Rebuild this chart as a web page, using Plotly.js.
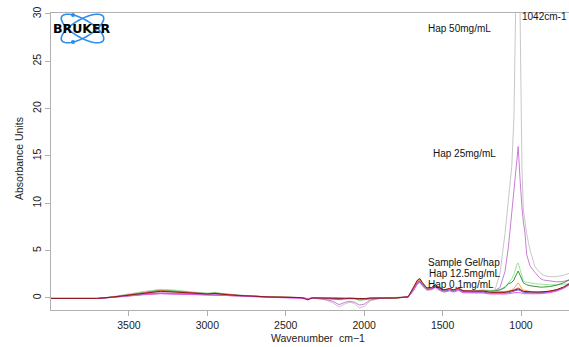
<!DOCTYPE html>
<html><head><meta charset="utf-8">
<script src="https://cdn.plot.ly/plotly-3.0.1.min.js"></script>
<style>html,body{margin:0;padding:0;background:#fff;}#chart{width:569px;height:347px;}</style>
</head><body><div id="chart"></div>
<script>
// Wavenumber grid (cm-1), shared by all spectra
const wavenumber = [4000, 3700, 3600, 3500, 3400, 3300, 3200, 3100, 3000, 2950,
 2900, 2800, 2600, 2400, 2360, 2330, 2250, 2200, 2160, 2120,
 2090, 2060, 2030, 2000, 1960, 1900, 1800, 1720, 1690, 1660,
 1645, 1630, 1600, 1570, 1545, 1520, 1490, 1455, 1430, 1400,
 1370, 1340, 1300, 1240, 1200, 1166, 1134, 1102, 1081, 1059,
 1045, 1038, 1025, 1018, 1006, 1000, 994, 985, 975, 964,
 943, 911, 880, 858, 820, 773, 730, 694];

const hap50 = [-0.05, -0.05, 0.15, 0.45, 0.7, 0.9, 0.8, 0.6, 0.5, 0.55,
 0.45, 0.3, 0.12, 0.05, -0.1, 0.0, -0.2, -0.5, -0.95, -0.6,
 -0.45, -0.6, -1.05, -0.9, -0.3, -0.05, 0.0, 0.1, 0.8, 1.6,
 1.75, 1.45, 1.0, 1.05, 1.3, 1.0, 0.85, 1.0, 0.85, 1.05,
 0.8, 0.8, 0.75, 0.85, 0.8, 0.84, 2.6, 6.8, 10.3, 13.9,
 19.1, 30, 40, 38, 30, 19.1, 13.9, 9.3, 7.8, 6.8,
 5.1, 3.3, 2.7, 2.4, 2.25, 2.25, 2.4, 2.6];

const hap25 = [-0.05, -0.05, 0.1, 0.3, 0.45, 0.55, 0.5, 0.42, 0.38, 0.42,
 0.35, 0.25, 0.1, 0.03, -0.1, 0.0, -0.15, -0.35, -0.7, -0.45,
 -0.35, -0.45, -0.75, -0.65, -0.2, -0.05, 0.0, 0.08, 0.7, 1.5,
 1.65, 1.35, 0.9, 0.95, 1.2, 0.9, 0.75, 0.9, 0.75, 0.95,
 0.7, 0.7, 0.65, 0.75, 0.7, 0.8, 1.1, 2.8, 5.3, 9.0,
 11.5, 12.5, 15.0, 16.0, 12.5, 10.5, 9.6, 8.0, 6.9, 4.6,
 3.4, 2.7, 2.1, 1.9, 1.8, 1.7, 1.75, 1.9];

const sampleGelHap = [-0.05, -0.05, 0.12, 0.4, 0.7, 0.9, 0.8, 0.62, 0.5, 0.6,
 0.45, 0.3, 0.12, 0.05, -0.05, 0.0, -0.05, -0.1, -0.2, -0.1,
 -0.05, -0.1, -0.25, -0.2, -0.05, 0.0, 0.0, 0.1, 0.8, 1.65,
 1.8, 1.5, 1.0, 1.05, 1.3, 1.0, 0.8, 0.95, 0.8, 0.95,
 0.75, 0.75, 0.7, 0.8, 0.75, 0.8, 0.9, 1.2, 1.6, 2.0,
 2.5, 2.9, 3.6, 3.7, 3.0, 2.5, 2.1, 1.8, 1.7, 1.65,
 1.6, 1.5, 1.45, 1.4, 1.4, 1.4, 1.45, 1.5];

const hap12_5 = [-0.05, -0.05, 0.1, 0.35, 0.6, 0.8, 0.7, 0.55, 0.45, 0.5,
 0.4, 0.28, 0.1, 0.04, -0.1, 0.0, -0.05, -0.08, -0.15, -0.08,
 -0.05, -0.08, -0.2, -0.15, -0.05, 0.0, 0.0, 0.1, 0.85, 1.7,
 1.85, 1.5, 1.0, 1.05, 1.35, 1.0, 0.8, 0.95, 0.8, 1.0,
 0.75, 0.75, 0.7, 0.8, 0.72, 0.75, 0.85, 1.1, 1.5, 1.65,
 1.9, 2.2, 2.7, 2.85, 2.4, 2.1, 1.8, 1.6, 1.5, 1.4,
 1.3, 1.2, 1.15, 1.15, 1.2, 1.35, 1.6, 1.9];

const hapOrange = [-0.05, -0.05, 0.1, 0.32, 0.55, 0.75, 0.65, 0.52, 0.42, 0.48,
 0.38, 0.26, 0.1, 0.04, -0.08, 0.0, -0.03, -0.05, -0.1, -0.05,
 -0.03, -0.05, -0.12, -0.1, -0.03, 0.0, 0.0, 0.1, 0.85, 1.75,
 1.9, 1.55, 1.0, 1.05, 1.35, 1.0, 0.8, 0.95, 0.8, 1.0,
 0.72, 0.72, 0.66, 0.75, 0.65, 0.62, 0.62, 0.65, 0.75, 0.85,
 1.0, 1.15, 1.45, 1.6, 1.3, 1.1, 0.95, 0.85, 0.8, 0.75,
 0.7, 0.65, 0.65, 0.65, 0.7, 0.85, 1.1, 1.4];

const hapRed = [-0.05, -0.05, 0.1, 0.32, 0.55, 0.75, 0.66, 0.53, 0.43, 0.5,
 0.4, 0.27, 0.1, 0.04, -0.12, 0.0, -0.03, -0.05, -0.1, -0.05,
 -0.03, -0.05, -0.1, -0.08, -0.03, 0.0, 0.0, 0.12, 0.9, 1.85,
 2.0, 1.6, 1.05, 1.1, 1.4, 1.05, 0.85, 1.0, 0.85, 1.05,
 0.75, 0.75, 0.68, 0.75, 0.62, 0.6, 0.6, 0.62, 0.68, 0.75,
 0.85, 0.92, 1.0, 1.05, 0.95, 0.85, 0.78, 0.72, 0.7, 0.68,
 0.65, 0.62, 0.62, 0.64, 0.7, 0.85, 1.1, 1.45];

const hapBlue = [-0.05, -0.05, 0.08, 0.25, 0.38, 0.48, 0.44, 0.38, 0.33, 0.36,
 0.3, 0.22, 0.08, 0.03, -0.1, 0.0, -0.03, -0.05, -0.1, -0.05,
 -0.03, -0.05, -0.1, -0.08, -0.03, 0.0, 0.0, 0.08, 0.75, 1.6,
 1.75, 1.4, 0.9, 0.95, 1.2, 0.88, 0.7, 0.85, 0.7, 0.88,
 0.62, 0.62, 0.55, 0.6, 0.5, 0.48, 0.48, 0.5, 0.55, 0.62,
 0.7, 0.75, 0.82, 0.85, 0.78, 0.7, 0.64, 0.6, 0.58, 0.56,
 0.54, 0.52, 0.52, 0.55, 0.62, 0.78, 1.05, 1.4];

const hap0_1 = [-0.05, -0.05, 0.06, 0.22, 0.35, 0.45, 0.42, 0.36, 0.31, 0.34,
 0.28, 0.2, 0.07, 0.02, -0.08, 0.0, -0.03, -0.04, -0.08, -0.04,
 -0.03, -0.04, -0.08, -0.06, -0.02, 0.0, 0.0, 0.08, 0.7, 1.5,
 1.65, 1.3, 0.82, 0.88, 1.1, 0.8, 0.62, 0.75, 0.62, 0.8,
 0.55, 0.55, 0.48, 0.52, 0.42, 0.4, 0.4, 0.42, 0.45, 0.5,
 0.55, 0.58, 0.6, 0.6, 0.56, 0.52, 0.48, 0.46, 0.45, 0.44,
 0.44, 0.44, 0.45, 0.48, 0.55, 0.72, 1.0, 1.35];

const gelMaroon = [-0.05, -0.05, 0.1, 0.3, 0.5, 0.7, 0.62, 0.5, 0.42, 0.48,
 0.38, 0.26, 0.1, 0.04, -0.2, 0.0, -0.03, -0.05, -0.08, -0.04,
 -0.03, -0.05, -0.08, -0.06, -0.02, 0.0, 0.0, 0.12, 0.95, 1.9,
 2.05, 1.65, 1.05, 1.1, 1.4, 1.05, 0.85, 1.0, 0.85, 1.05,
 0.75, 0.75, 0.68, 0.72, 0.6, 0.58, 0.58, 0.6, 0.66, 0.72,
 0.8, 0.85, 0.92, 0.95, 0.88, 0.8, 0.74, 0.7, 0.68, 0.66,
 0.64, 0.62, 0.62, 0.64, 0.72, 0.88, 1.15, 1.5];

const seriesNames = ["Hap 50mg/mL", "Hap 25mg/mL", "Sample Gel/hap", "Hap 12.5mg/mL", "Hap (orange)", "Hap (red)", "Hap (blue)", "Hap 0.1mg/mL", "Gel"];
const seriesData = [hap50, hap25, sampleGelHap, hap12_5, hapOrange, hapRed, hapBlue, hap0_1, gelMaroon];
const seriesColors = ["#c8c8c8", "#c77fd3", "#98e898", "#3f8f3f", "#ffa64d", "#e8604c", "#6a64d6", "#e85ae8", "#8b1a1a"];

const yTicks = [0, 5, 10, 15, 20, 25, 30];
const xTicks = [3500, 3000, 2500, 2000, 1500, 1000];

const labels = [
  {text: "Hap 50mg/mL", x: 1395, y: 28.5, anchor: "center"},
  {text: "1042cm-1", x: 1000, y: 29.7, anchor: "left"},
  {text: "Hap 25mg/mL", x: 1363, y: 15.3, anchor: "center"},
  {text: "Sample Gel/hap", x: 1363, y: 3.75, anchor: "center"},
  {text: "Hap 12.5mg/mL", x: 1357, y: 2.62, anchor: "center"},
  {text: "Hap 0.1mg/mL", x: 1383, y: 1.45, anchor: "center"}
];

const traces = seriesData.map((ys, i) => ({
  type: "scatter", mode: "lines", x: wavenumber, y: ys, name: seriesNames[i],
  line: {color: seriesColors[i], width: 1}, hoverinfo: "skip"
}));

// Plot area in pixels: left 51, right 569, top 13, bottom 310
const L = 51, R = 569, T = 13, B = 310;
const px2x = p => (p - L) / (R - L);
const py2y = p => (B - p) / (B - T);

function ellipsePath(cx, cy, a, b, thetaDeg) {
  const th = thetaDeg * Math.PI / 180;
  let d = "";
  for (let k = 0; k <= 48; k++) {
    const t = 2 * Math.PI * k / 48;
    const ex = cx + a * Math.cos(t) * Math.cos(th) - b * Math.sin(t) * Math.sin(th);
    const ey = cy + a * Math.cos(t) * Math.sin(th) + b * Math.sin(t) * Math.cos(th);
    d += (k === 0 ? "M" : "L") + px2x(ex).toFixed(5) + "," + py2y(ey).toFixed(5);
  }
  return d + "Z";
}

const logoBlue = "#2b8df0";
const shapes = [
  {type: "path", xref: "paper", yref: "paper", path: ellipsePath(82.5, 28.5, 24, 9, 30), line: {color: logoBlue, width: 1.6}},
  {type: "path", xref: "paper", yref: "paper", path: ellipsePath(82.5, 28.5, 24, 9, -30), line: {color: logoBlue, width: 1.6}},
  {type: "circle", xref: "paper", yref: "paper", x0: px2x(71), x1: px2x(75), y0: py2y(13), y1: py2y(17), fillcolor: logoBlue, line: {width: 0}},
  {type: "circle", xref: "paper", yref: "paper", x0: px2x(71), x1: px2x(75), y0: py2y(40), y1: py2y(44), fillcolor: logoBlue, line: {width: 0}}
];

const annFont = {family: "Liberation Sans, Arial, sans-serif", size: 10, color: "#111"};
const annotations = labels.map(l => ({
  text: l.text, x: l.x, y: l.y, xref: "x", yref: "y", xanchor: l.anchor, yanchor: "middle",
  showarrow: false, font: annFont, borderpad: 0
}));
annotations.push({text: "<b>BRUKER</b>", xref: "paper", yref: "paper", x: px2x(82), y: py2y(29),
  xanchor: "center", yanchor: "middle", showarrow: false,
  font: {family: "DejaVu Sans, sans-serif", size: 12.5, color: "#000"}});
annotations.push({text: "Wavenumber  cm\u22121", xref: "paper", yref: "paper", x: px2x(318), y: py2y(338),
  xanchor: "center", yanchor: "middle", showarrow: false, font: {family: "Liberation Sans, Arial, sans-serif", size: 10.5, color: "#222"}});
annotations.push({text: "Absorbance Units", xref: "paper", yref: "paper", x: px2x(19), y: py2y(159),
  xanchor: "center", yanchor: "middle", textangle: -90, showarrow: false, font: {family: "Liberation Sans, Arial, sans-serif", size: 10.5, color: "#222"}});

const layout = {
  width: 569, height: 347,
  margin: {l: L, r: 569 - R, t: T, b: 347 - B, pad: 0},
  paper_bgcolor: "#fff", plot_bgcolor: "#fff",
  showlegend: false,
  xaxis: {range: [3997, 694], autorange: false, tickvals: xTicks, ticktext: xTicks.map(String),
    showgrid: false, zeroline: false, showline: true, linecolor: "#b0b0b0", linewidth: 1, mirror: true,
    ticks: "outside", ticklen: 5, tickcolor: "#b0b0b0", tickwidth: 1,
    tickfont: {family: "Liberation Sans, Arial, sans-serif", size: 10.5, color: "#222"}},
  yaxis: {range: [-1.27, 30.1], autorange: false, tickvals: yTicks, ticktext: yTicks.map(String),
    showgrid: false, zeroline: false, showline: true, linecolor: "#b0b0b0", linewidth: 1,
    ticks: "outside", ticklen: 5, tickcolor: "#b0b0b0", tickwidth: 1, tickangle: -90,
    tickfont: {family: "Liberation Sans, Arial, sans-serif", size: 10.5, color: "#222"}},
  shapes: shapes,
  annotations: annotations
};

Plotly.newPlot("chart", traces, layout, {displayModeBar: false, staticPlot: true});
</script>
</body></html>
